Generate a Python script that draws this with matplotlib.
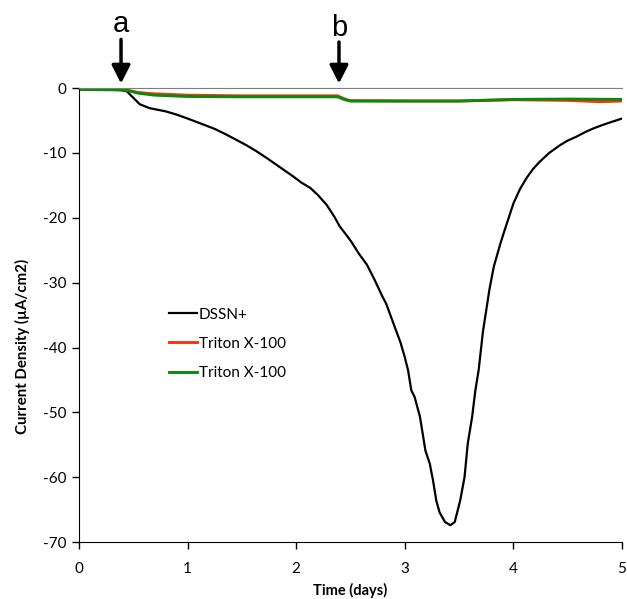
import matplotlib
matplotlib.use("Agg")
import matplotlib.pyplot as plt

plt.rcParams['font.family'] = ['Lato', 'DejaVu Sans']
plt.rcParams['axes.unicode_minus'] = False

# Time (days) and current density (µA/cm2) for each electrode
dssn_t = [0.00, 0.20, 0.38, 0.44, 0.50, 0.56, 0.65, 0.80, 0.90, 1.00, 1.11, 1.25,
          1.36, 1.45, 1.54, 1.63, 1.73, 1.85, 1.97, 2.05, 2.13, 2.20, 2.28, 2.35,
          2.40, 2.50, 2.58, 2.65, 2.72, 2.79, 2.83, 2.90, 2.96, 3.00, 3.03, 3.06,
          3.09, 3.14, 3.19, 3.23, 3.26, 3.29, 3.32, 3.37, 3.42, 3.46, 3.51, 3.55,
          3.58, 3.62, 3.65, 3.68, 3.72, 3.78, 3.82, 3.88, 3.91, 4.00, 4.06, 4.12,
          4.18, 4.24, 4.33, 4.43, 4.50, 4.58, 4.66, 4.74, 4.82, 4.89, 5.00]
dssn_j = [-0.2, -0.2, -0.3, -0.5, -1.5, -2.5, -3.1, -3.6, -4.1, -4.7, -5.4, -6.3,
          -7.2, -8.0, -8.8, -9.7, -10.8, -12.2, -13.6, -14.6, -15.4, -16.5, -18.0, -19.8,
          -21.3, -23.5, -25.6, -27.2, -29.5, -32.0, -33.3, -36.5, -39.2, -41.5, -43.5, -46.6,
          -47.6, -50.7, -55.9, -57.9, -60.5, -63.6, -65.4, -66.9, -67.4, -66.9, -63.6, -60.0,
          -54.8, -50.7, -46.6, -43.5, -37.5, -31.0, -27.5, -24.0, -22.4, -17.8, -15.6, -13.9,
          -12.5, -11.4, -10.0, -8.8, -8.1, -7.5, -6.8, -6.2, -5.7, -5.3, -4.7]

triton1_t = [0.0, 0.40, 0.45, 0.55, 0.70, 1.00, 1.50, 2.00, 2.38, 2.45, 2.50, 3.00,
             3.50, 4.00, 4.50, 4.80, 5.00]
triton1_j = [-0.1, -0.2, -0.35, -0.7, -0.9, -1.1, -1.2, -1.2, -1.2, -1.7, -1.95, -2.0,
             -2.0, -1.8, -1.9, -2.1, -2.0]

triton2_t = [0.0, 0.40, 0.45, 0.55, 0.70, 1.00, 1.50, 2.00, 2.38, 2.45, 2.50, 3.00,
             3.50, 4.00, 4.50, 5.00]
triton2_j = [-0.2, -0.3, -0.4, -0.8, -1.1, -1.3, -1.35, -1.35, -1.35, -1.8, -2.0, -2.0,
             -2.0, -1.75, -1.7, -1.75]

series_labels = ['DSSN+', 'Triton X-100', 'Triton X-100']
arrow_labels = ['a', 'b']
arrow_times = [0.387, 2.394]

x_ticks = [0, 1, 2, 3, 4, 5]
y_ticks = [0, -10, -20, -30, -40, -50, -60, -70]

fig = plt.figure(figsize=(6.27, 5.99), dpi=100)
ax = fig.add_axes([0.126, 0.095, 0.866, 0.758])

ax.plot(dssn_t, dssn_j, color='black', lw=1.6, label=series_labels[0])
ax.plot(triton1_t, triton1_j, color='#ff3010', lw=2.1, label=series_labels[1])
ax.plot(triton2_t, triton2_j, color='#0a8a0a', lw=2.1, label=series_labels[2])

ax.set_xlim(0, 5)
ax.set_ylim(-70, 0)
ax.set_xticks(x_ticks)
ax.set_yticks(y_ticks)
ax.tick_params(axis='both', direction='out', length=5, width=1, labelsize=11)
ax.tick_params(axis='x', pad=9)
ax.tick_params(axis='y', pad=4)

ax.spines['right'].set_visible(False)
ax.spines['top'].set_color('#7f7f7f')
ax.spines['left'].set_color('black')
ax.spines['bottom'].set_color('black')

ax.set_xlabel('Time (days)', fontsize=10.5, fontweight='bold')
ax.xaxis.set_label_coords(0.5, -0.09)
ax.set_ylabel('Current Density (µA/cm2)', fontsize=10.8, fontweight='bold')
ax.yaxis.set_label_coords(-0.09, 0.43)

leg = ax.legend(loc='upper left', bbox_to_anchor=(0.155, 0.53), frameon=False,
                fontsize=11, handlelength=1.8, handletextpad=0.15,
                labelspacing=1.0, borderaxespad=0)

# letter baseline and arrow tail height (data units above zero) per marker
letter_base = [8.6, 8.1]
tail_top = [7.5, 7.1]
for lab, t, yb, yt in zip(arrow_labels, arrow_times, letter_base, tail_top):
    ax.annotate('', xy=(t, 0.7), xytext=(t, yt), annotation_clip=False,
                arrowprops=dict(arrowstyle='-|>,head_length=0.55,head_width=0.28',
                                lw=2.5, color='black', mutation_scale=20,
                                shrinkA=0, shrinkB=0))
    ax.text(t, yb, lab, ha='center', va='baseline', fontsize=21,
            family='Liberation Sans', clip_on=False)

fig.savefig('out.png', dpi=100)
